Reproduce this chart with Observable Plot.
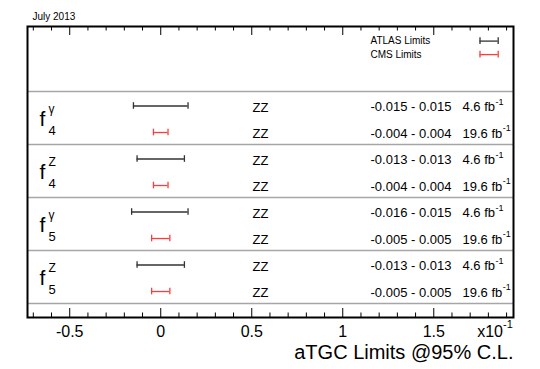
<!DOCTYPE html>
<html><head><meta charset="utf-8">
<script src="https://cdn.jsdelivr.net/npm/d3@7"></script>
<script src="https://cdn.jsdelivr.net/npm/@observablehq/plot@0.6"></script>
<style>html,body{margin:0;padding:0;background:#fff;} #chart svg{display:block;}</style>
</head><body><div id="chart"></div>
<script>
// ---- data ----
const paramSub = ["4", "4", "5", "5"];
const paramSup = ["γ", "Z", "γ", "Z"];
const channels = ["ZZ", "ZZ", "ZZ", "ZZ"];
const atlasLow  = [-0.015, -0.013, -0.016, -0.013];
const atlasHigh = [ 0.015,  0.013,  0.015,  0.013];
const cmsLow    = [-0.004, -0.004, -0.005, -0.005];
const cmsHigh   = [ 0.004,  0.004,  0.005,  0.005];
const atlasLumi = "4.6";
const cmsLumi = "19.6";
const legendLabels = ["ATLAS Limits", "CMS Limits"];
const majorTicks = [-0.05, 0, 0.05, 0.1, 0.15];
const tickLabels = ["-0.5", "0", "0.5", "1", "1.5"];
const minorTicks = [-0.07,-0.06,-0.04,-0.03,-0.02,-0.01,0.01,0.02,0.03,0.04,0.06,0.07,0.08,0.09,0.11,0.12,0.13,0.14,0.16,0.17,0.18,0.19];
const titleText = "July 2013";
const xTitle = "aTGC Limits @95% C.L.";
const axisExponent = "-1";

// ---- layout ----
const W = 540, H = 369;
const mL = 27, mR = 27, mT = 26, mB = 52;
const xDomain = [-0.0732, 0.1938];
const yDomain = [-3, 7.98];
const FONT = "'Liberation Sans', Arial, Helvetica, sans-serif";
const ATLAS_COLOR = "#333333";
const CMS_COLOR = "#ff3c3c";

const ctx = document.createElement("canvas").getContext("2d");
function tw(s, size) { ctx.font = `${size}px 'Liberation Sans'`; return ctx.measureText(s).width; }

const rows = paramSub.flatMap((s, g) => [
  {row: 2 * g, exp: "ATLAS", lo: atlasLow[g], hi: atlasHigh[g], lumi: atlasLumi, channel: channels[g]},
  {row: 2 * g + 1, exp: "CMS", lo: cmsLow[g], hi: cmsHigh[g], lumi: cmsLumi, channel: channels[g]}
]);
const groups = paramSub.map((s, g) => ({g, sub: s, sup: paramSup[g], center: 2 * g + 0.5}));
const separators = d3.range(paramSub.length + 1).map(k => 2 * k - 0.55);

const xs = Plot.scale({x: {domain: xDomain, range: [mL, W - mR]}});
const ys = Plot.scale({y: {domain: yDomain, range: [mT, H - mB]}});
const legend = legendLabels.map((label, k) => ({
  label, color: k === 0 ? ATLAS_COLOR : CMS_COLOR,
  y: ys.invert(40.6 + 13.5 * k), lo: xs.invert(479.5), hi: xs.invert(497.7)
}));

const CAP = 0.125;
function errorBars(data, stroke) {
  return [
    Plot.ruleY(data, {y: "y", x1: "lo", x2: "hi", stroke, strokeWidth: 1.3}),
    Plot.ruleX(data, {x: "lo", y1: d => d.y - CAP, y2: d => d.y + CAP, stroke, strokeWidth: 1.3}),
    Plot.ruleX(data, {x: "hi", y1: d => d.y - CAP, y2: d => d.y + CAP, stroke, strokeWidth: 1.3})
  ];
}
const atlasRows = rows.filter(d => d.exp === "ATLAS").map(d => ({...d, y: d.row}));
const cmsRows = rows.filter(d => d.exp === "CMS").map(d => ({...d, y: d.row}));
const plotH = H - mT - mB;

const chart = Plot.plot({
  width: W, height: H,
  marginLeft: mL, marginRight: mR, marginTop: mT, marginBottom: mB,
  style: {fontFamily: FONT, background: "#fff", color: "#000", overflow: "visible"},
  x: {domain: xDomain, axis: null},
  y: {domain: yDomain, reverse: true, axis: null},
  marks: [
    Plot.ruleY(separators, {stroke: "#a6a6a6", strokeWidth: 1.6}),
    // ticks (inward, top & bottom)
    Plot.ruleX(majorTicks, {stroke: "#000", strokeWidth: 1, insetTop: plotH - 9}),
    Plot.ruleX(majorTicks, {stroke: "#000", strokeWidth: 1, insetBottom: plotH - 9}),
    Plot.ruleX(minorTicks, {stroke: "#000", strokeWidth: 1, insetTop: plotH - 4.5}),
    Plot.ruleX(minorTicks, {stroke: "#000", strokeWidth: 1, insetBottom: plotH - 4.5}),
    Plot.axisX({ticks: majorTicks, tickSize: 0, tickPadding: 8, fontSize: 16, label: null,
      tickFormat: d => tickLabels[majorTicks.indexOf(d)]}),
    // error bars
    ...errorBars(atlasRows, ATLAS_COLOR),
    ...errorBars(cmsRows, CMS_COLOR),
    ...errorBars(legend.slice(0, 1), ATLAS_COLOR),
    ...errorBars(legend.slice(1, 2), CMS_COLOR),
    // legend labels
    Plot.text(legend, {y: "y", text: "label", frameAnchor: "left", dx: 343, textAnchor: "start", lineAnchor: "middle", fontSize: 10, fill: "#000"}),
    // parameter labels
    Plot.text(groups, {y: "center", text: () => "f", frameAnchor: "left", dx: 12, dy: 7, textAnchor: "start", lineAnchor: "bottom", fontSize: 21, fill: "#000"}),
    Plot.text(groups, {y: "center", text: "sup", frameAnchor: "left", dx: 21, dy: -6, textAnchor: "start", lineAnchor: "bottom", fontSize: 12, fill: "#000"}),
    Plot.text(groups, {y: "center", text: "sub", frameAnchor: "left", dx: 21, dy: 15.5, textAnchor: "start", lineAnchor: "bottom", fontSize: 13, fill: "#000"}),
    // channel
    Plot.text(rows, {y: "row", text: "channel", frameAnchor: "left", dx: 233, dy: 1.5, textAnchor: "middle", lineAnchor: "middle", fontSize: 13, fill: "#000"}),
    // limits
    Plot.text(rows, {y: "row", text: d => `${d.lo.toFixed(3)} - ${d.hi.toFixed(3)}`, frameAnchor: "left", dx: 343, dy: 1, textAnchor: "start", lineAnchor: "middle", fontSize: 13, fill: "#000"}),
    Plot.text(rows, {y: "row", text: d => `${d.lumi} fb`, frameAnchor: "left", dx: 435, dy: 1, textAnchor: "start", lineAnchor: "middle", fontSize: 13, fill: "#000"}),
    Plot.text(atlasRows, {y: "row", text: () => axisExponent, frameAnchor: "left", dx: 435 + tw(`${atlasLumi} fb`, 13) + 0.5, dy: -4, textAnchor: "start", lineAnchor: "middle", fontSize: 9, fill: "#000"}),
    Plot.text(cmsRows, {y: "row", text: () => axisExponent, frameAnchor: "left", dx: 435 + tw(`${cmsLumi} fb`, 13) + 0.5, dy: -4, textAnchor: "start", lineAnchor: "middle", fontSize: 9, fill: "#000"}),
    // axis exponent
    Plot.text([`x10`], {frameAnchor: "bottom-right", dx: -36.3, dy: 19, textAnchor: "start", lineAnchor: "bottom", fontSize: 16, fill: "#000"}),
    Plot.text([axisExponent], {frameAnchor: "bottom-right", dx: -36.3 + tw("x10", 16), dy: 10, textAnchor: "start", lineAnchor: "bottom", fontSize: 11, fill: "#000"}),
    // titles
    Plot.text([xTitle], {frameAnchor: "bottom-right", dy: 41, textAnchor: "end", lineAnchor: "bottom", fontSize: 20, fill: "#000"}),
    Plot.text([titleText], {frameAnchor: "top-left", dx: 5, dy: -7, textAnchor: "start", lineAnchor: "bottom", fontSize: 10, fill: "#000"}),
    Plot.frame({stroke: "#000", strokeWidth: 2})
  ]
});
document.getElementById("chart").appendChild(chart);
</script>
</body></html>
